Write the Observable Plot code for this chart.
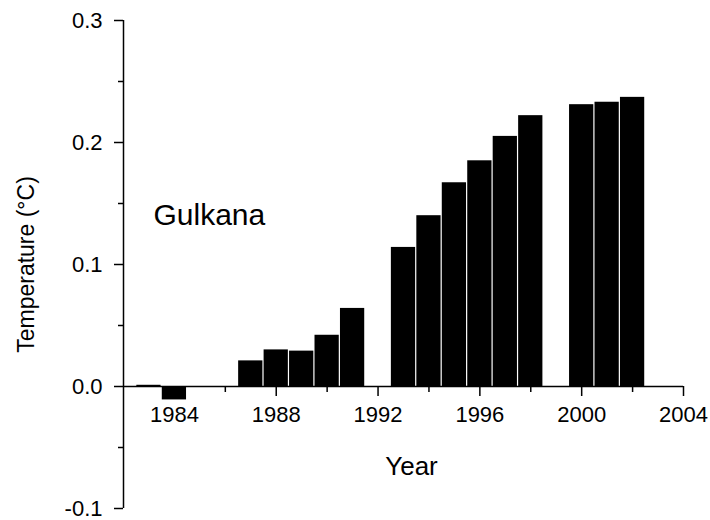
<!DOCTYPE html>
<html>
<head>
<meta charset="utf-8">
<script src="https://cdn.jsdelivr.net/npm/d3@7"></script>
<script src="https://cdn.jsdelivr.net/npm/@observablehq/plot@0.6"></script>
<style>
  html, body { margin: 0; padding: 0; background: #fff; }
  #chart { position: relative; width: 710px; height: 520px; }
  svg { font-family: "Liberation Sans", Arial, Helvetica, sans-serif; }
</style>
</head>
<body>
<div id="chart"></div>
<script>
// Data
const years  = [1983, 1984, 1987, 1988, 1989, 1990, 1991, 1993, 1994, 1995, 1996, 1997, 1998, 2000, 2001, 2002];
const values = [0.001, -0.011, 0.021, 0.030, 0.029, 0.042, 0.064, 0.114, 0.140, 0.167, 0.185, 0.205, 0.222, 0.231, 0.233, 0.237];
const xMajorTicks = [1984, 1988, 1992, 1996, 2000, 2004];
const xMinorTicks = [1986, 1990, 1994, 1998, 2002];
const yMajorTicks = [-0.1, 0.0, 0.1, 0.2, 0.3];
const yMinorTicks = [-0.05, 0.05, 0.15, 0.25];
const stationLabel = "Gulkana";
const xLabel = "Year";
const yLabel = "Temperature (°C)";

const data = years.map((y, i) => ({year: y, value: values[i]}));

const font = "Liberation Sans, Arial, Helvetica, sans-serif";

const chart = Plot.plot({
  width: 710,
  height: 520,
  marginLeft: 123,
  marginRight: 27,
  marginTop: 20,
  marginBottom: 12,
  style: {fontFamily: font, background: "#fff", color: "#000"},
  x: {domain: [1982, 2004], axis: null},
  y: {domain: [-0.1, 0.3], axis: null},
  marks: [
    Plot.rectY(data, {
      x1: d => d.year - 0.5,
      x2: d => d.year + 0.5,
      y1: 0,
      y2: "value",
      fill: "#000",
      insetLeft: 0.6,
      insetRight: 0.6
    }),
    // y axis line
    Plot.ruleX([1982], {stroke: "#000", strokeWidth: 1.5}),
    // x axis line at zero
    Plot.ruleY([0], {stroke: "#000", strokeWidth: 1.5}),
    // y ticks
    Plot.axisY(yMajorTicks, {
      anchor: "left",
      label: null,
      tickSize: 9,
      tickPadding: 12,
      tickFormat: d => d.toFixed(1),
      fontSize: 22,
      strokeWidth: 1.5
    }),
    Plot.axisY(yMinorTicks, {
      anchor: "left",
      label: null,
      tickSize: 5,
      text: null,
      strokeWidth: 1.5
    }),
    // x ticks hanging below the zero line
    Plot.ruleX(xMajorTicks, {y1: 0, y2: 0, insetBottom: -10, stroke: "#000", strokeWidth: 1.5}),
    Plot.ruleX(xMinorTicks, {y1: 0, y2: 0, insetBottom: -6, stroke: "#000", strokeWidth: 1.5}),
    Plot.text(xMajorTicks, {
      x: d => d, y: 0, text: d => String(d),
      dy: 28, fontSize: 22, fill: "#000"
    }),
    // panel label
    Plot.text([stationLabel], {
      x: 1982, y: 0.14, text: d => d,
      textAnchor: "start", dx: 30, fontSize: 30, fill: "#000"
    }),
    // axis titles
    Plot.text([xLabel], {
      x: 1993, y: 0, text: d => d,
      dx: 8, dy: 80, fontSize: 26, fill: "#000"
    }),
    Plot.text([yLabel], {
      x: 1982, y: 0.1, text: d => d,
      rotate: -90, textAnchor: "middle", dx: -97, fontSize: 23, fill: "#000"
    })
  ]
});

document.getElementById("chart").appendChild(chart);
</script>
</body>
</html>
